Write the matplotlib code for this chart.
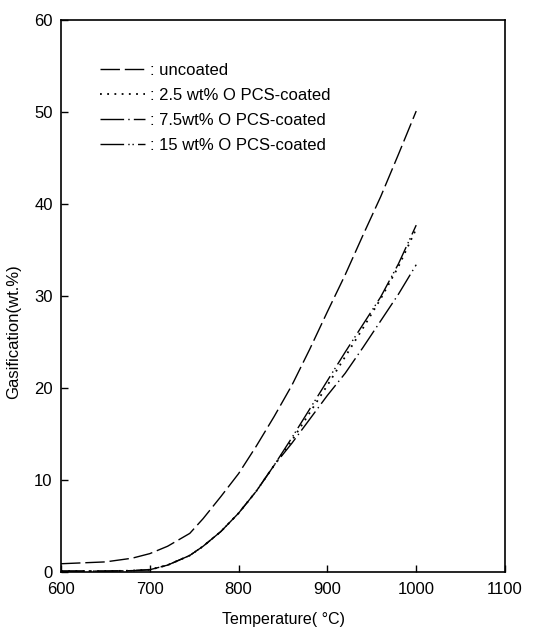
import matplotlib
matplotlib.use('Agg')
import matplotlib.pyplot as plt

plt.rcParams['font.family'] = ['Liberation Sans', 'DejaVu Sans']

# temperature grid (°C)
temp = [600, 650, 680, 700, 720, 745, 760, 780, 800, 820, 840, 860, 880,
        900, 920, 940, 960, 980, 1000]

# gasification (wt.%)
uncoated = [0.9, 1.1, 1.5, 2.0, 2.8, 4.2, 5.8, 8.2, 10.7, 13.7, 16.9, 20.3, 24.2,
            28.3, 32.3, 36.6, 40.8, 45.4, 50.1]
pcs_2_5 = [0.1, 0.1, 0.15, 0.25, 0.75, 1.8, 2.8, 4.4, 6.4, 8.8, 11.6, 14.3, 17.3,
           20.3, 23.4, 26.5, 29.7, 33.2, 37.3]
pcs_7_5 = [0.1, 0.1, 0.15, 0.25, 0.75, 1.8, 2.8, 4.4, 6.4, 8.8, 11.6, 14.0, 16.6,
           19.2, 21.6, 24.4, 27.3, 30.2, 33.4]
pcs_15 = [0.1, 0.1, 0.15, 0.25, 0.75, 1.8, 2.8, 4.4, 6.4, 8.8, 11.6, 14.6, 17.7,
          20.8, 23.9, 26.9, 29.9, 33.5, 37.7]

labels = [': uncoated', ': 2.5 wt% O PCS-coated', ': 7.5wt% O PCS-coated',
          ': 15 wt% O PCS-coated']

fig = plt.figure(figsize=(5.38, 6.32), dpi=100)
ax = fig.add_axes([0.1134, 0.0949, 0.8253, 0.8735])

ax.plot(temp, uncoated, color='black', lw=1.0, dashes=(14, 3.5), label=labels[0])
ax.plot(temp, pcs_2_5, color='black', lw=1.3, dashes=(1, 3), label=labels[1])
ax.plot(temp, pcs_7_5, color='black', lw=1.0, dashes=(17, 3, 1, 3), label=labels[2])
ax.plot(temp, pcs_15, color='black', lw=1.0, dashes=(17, 3, 1, 2, 1, 3), label=labels[3])

ax.set_xlim(600, 1100)
ax.set_ylim(0, 60)
ax.set_xticks([600, 700, 800, 900, 1000, 1100])
ax.set_yticks([0, 10, 20, 30, 40, 50, 60])
ax.tick_params(direction='in', length=5, width=1, labelsize=12, top=False, right=False)
ax.tick_params(axis='x', pad=7)
ax.tick_params(axis='y', pad=6)
for s in ax.spines.values():
    s.set_linewidth(1.2)

ax.set_xlabel('Temperature( °C)', fontsize=11.5, labelpad=11)
ax.set_ylabel('Gasification(wt.%)', fontsize=12)
ax.yaxis.set_label_coords(-0.09, 0.435)

leg = ax.legend(loc='upper left', bbox_to_anchor=(0.053, 0.95), frameon=False,
                fontsize=12, handlelength=2.7, handletextpad=0.35, labelspacing=0.6)

fig.savefig('out.png', dpi=100)
